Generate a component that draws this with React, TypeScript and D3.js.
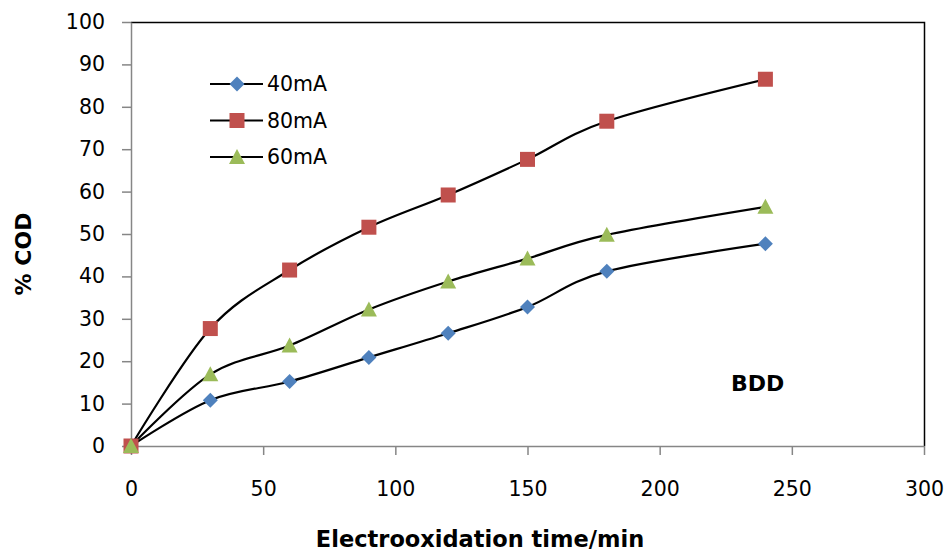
import React, { useEffect, useRef } from 'react';
import * as d3 from 'd3';

// time in minutes
const times = [0, 30, 60, 90, 120, 150, 180, 240];

// % COD removal per current
const cod40 = [0, 10.8, 15.2, 20.9, 26.6, 32.8, 41.2, 47.7];
const cod80 = [0, 27.7, 41.5, 51.6, 59.2, 67.6, 76.6, 86.5];
const cod60 = [0, 16.9, 23.7, 32.2, 38.8, 44.2, 49.8, 56.4];

const xTicks = [0, 50, 100, 150, 200, 250, 300];
const yTicks = [0, 10, 20, 30, 40, 50, 60, 70, 80, 90, 100];

const seriesNames = ['40mA', '80mA', '60mA'];
const seriesColors = ['#4F81BD', '#C0504D', '#9BBB59'];
const seriesShapes = ['diamond', 'square', 'triangle'];

const FONT = "'DejaVu Sans', sans-serif";

export default function App() {
  const ref = useRef<SVGSVGElement>(null);

  useEffect(() => {
    const svg = d3.select(ref.current);
    svg.selectAll('*').remove();

    const margin = { top: 22, right: 22, bottom: 111, left: 131 };
    const W = 946, H = 557;
    const width = W - margin.left - margin.right;
    const height = H - margin.top - margin.bottom;

    const x = d3.scaleLinear().domain([0, 300]).range([0, width]);
    const y = d3.scaleLinear().domain([0, 100]).range([height, 0]);

    const g = svg.append('g')
      .attr('transform', 'translate(' + margin.left + ',' + margin.top + ')');

    // top + right border (black)
    g.append('path')
      .attr('d', 'M0,0.5H' + (width + 0.5) + 'V' + height)
      .attr('fill', 'none')
      .attr('stroke', '#000')
      .attr('stroke-width', 1.5);

    // x axis
    const xAxis = d3.axisBottom(x).tickValues(xTicks).tickSize(9).tickPadding(26).tickSizeOuter(0);
    const gx = g.append('g')
      .attr('transform', 'translate(0,' + height + ')')
      .call(xAxis);
    gx.select('.domain').attr('stroke', '#868686').attr('stroke-width', 1.5);
    gx.selectAll('.tick line').attr('stroke', '#868686').attr('stroke-width', 1.5);
    gx.selectAll('.tick text')
      .attr('font-family', FONT)
      .attr('font-size', 20.5)
      .attr('fill', '#000');

    // y axis
    const yAxis = d3.axisLeft(y).tickValues(yTicks).tickSize(9).tickPadding(17).tickSizeOuter(0);
    const gy = g.append('g').call(yAxis);
    gy.select('.domain').attr('stroke', '#868686').attr('stroke-width', 1.5);
    gy.selectAll('.tick line').attr('stroke', '#868686').attr('stroke-width', 1.5);
    gy.selectAll('.tick text')
      .attr('font-family', FONT)
      .attr('font-size', 20.5)
      .attr('fill', '#000');

    const line = d3.line<number>()
      .x((d, i) => x(times[i]))
      .y((d) => y(d))
      .curve(d3.curveCardinal.tension(0));

    const allSeries = [cod40, cod80, cod60];

    function marker(sel: any, shape: string, color: string) {
      if (shape === 'square') {
        sel.append('rect')
          .attr('x', -7.5).attr('y', -7.5)
          .attr('width', 15).attr('height', 15)
          .attr('fill', color);
      } else if (shape === 'diamond') {
        sel.append('path')
          .attr('d', 'M0,-7.5L7.5,0L0,7.5L-7.5,0Z')
          .attr('fill', color);
      } else {
        sel.append('path')
          .attr('d', 'M0,-8L8,7L-8,7Z')
          .attr('fill', color);
      }
    }

    allSeries.forEach((data) => {
      g.append('path')
        .attr('d', line(data))
        .attr('fill', 'none')
        .attr('stroke', '#000')
        .attr('stroke-width', 2.2);
    });

    // markers drawn in series order so green ends on top at origin
    allSeries.forEach((data, si) => {
      data.forEach((d, i) => {
        const m = g.append('g')
          .attr('transform', 'translate(' + x(times[i]) + ',' + y(d) + ')');
        marker(m, seriesShapes[si], seriesColors[si]);
      });
    });

    // legend
    const le = g.append('g').attr('transform', 'translate(79,62)');
    seriesNames.forEach((name, i) => {
      const row = le.append('g').attr('transform', 'translate(0,' + i * 36.5 + ')');
      row.append('line')
        .attr('x1', 0).attr('x2', 53)
        .attr('y1', 0).attr('y2', 0)
        .attr('stroke', '#000').attr('stroke-width', 2.2);
      const m = row.append('g').attr('transform', 'translate(27,0)');
      marker(m, seriesShapes[i], seriesColors[i]);
      row.append('text')
        .attr('x', 57).attr('y', 0).attr('dy', '0.36em')
        .attr('font-family', FONT)
        .attr('font-size', 20.5)
        .text(name);
    });

    // BDD label
    g.append('text')
      .attr('x', x(227)).attr('y', y(13))
      .attr('font-family', FONT)
      .attr('font-size', 22)
      .attr('font-weight', 'bold')
      .text('BDD');

    // axis titles
    svg.append('text')
      .attr('x', 480).attr('y', 547)
      .attr('text-anchor', 'middle')
      .attr('font-family', FONT)
      .attr('font-size', 22.5)
      .attr('font-weight', 'bold')
      .text('Electrooxidation time/min');

    svg.append('text')
      .attr('transform', 'translate(31,254) rotate(-90)')
      .attr('text-anchor', 'middle')
      .attr('font-family', FONT)
      .attr('font-size', 22)
      .attr('font-weight', 'bold')
      .text('% COD');
  }, []);

  return (
    <svg ref={ref} width={946} height={557}
      style={{ position: 'absolute', left: 0, top: 0, background: '#fff' }} />
  );
}
